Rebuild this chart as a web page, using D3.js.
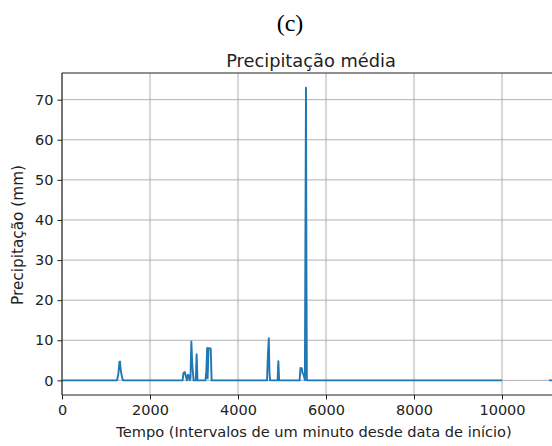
<!DOCTYPE html>
<html><head><meta charset="utf-8">
<script src="https://cdn.jsdelivr.net/npm/d3@7"></script>
<style>body{margin:0;background:#fff}svg{display:block}</style>
</head><body>
<script>
// Time (minutes since start) and mean precipitation (mm); null = gap
const minutes = [0, 1250, 1280, 1305, 1318, 1335, 1370, 1390, 2740, 2760, 2790, 2820, 2840, 2860, 2880, 2900, 2920, 2940, 2960, 2990, 3040, 3060, 3080, 3100, 3260, 3280, 3300, 3310, 3330, 3360, 3380, 3400, 4660, 4680, 4700, 4715, 4730, 4900, 4917, 4935, 5400, 5420, 5450, 5470, 5490, 5520, 5545, 5555, 5565, 5580, 9990, 10000, 10010, 11060, 11070, 11400];
const precip  = [0, 0, 1.5, 4.6, 4.7, 2.5, 0.5, 0, 0, 1.8, 2.1, 0.8, 0, 1.4, 1.2, 0, 0.5, 9.7, 4, 0, 0, 6.5, 0, 0, 0, 2.3, 8.1, 0.5, 8.0, 8.0, 7.9, 0, 0, 6.5, 10.5, 2, 0, 0, 4.8, 0, 0, 3.1, 3.0, 1.7, 1.5, 0, 73, 30, 0, 0, 0, 0, null, null, 0, 0];
const xTicks = [0, 2000, 4000, 6000, 8000, 10000];
const yTicks = [0, 10, 20, 30, 40, 50, 60, 70];

const W = 552, H = 446;
const m = {left: 62, top: 73, right: 560, bottom: 395};
const svg = d3.select("body").append("svg").attr("width", W).attr("height", H)
  .style("font-family", "'DejaVu Sans', sans-serif");

const x = d3.scaleLinear().domain([0, 11318]).range([m.left, m.right]);
const y = d3.scaleLinear().domain([-3.65, 76.65]).range([m.bottom, m.top]);

svg.append("defs").append("clipPath").attr("id", "clip")
  .append("rect").attr("x", m.left).attr("y", m.top).attr("width", m.right - m.left).attr("height", m.bottom - m.top);

// grid
const g = svg.append("g");
g.selectAll(".gx").data(xTicks).join("line")
  .attr("x1", d => x(d)).attr("x2", d => x(d)).attr("y1", m.top).attr("y2", m.bottom)
  .attr("stroke", "#b0b0b0").attr("stroke-width", 1);
g.selectAll(".gy").data(yTicks).join("line")
  .attr("x1", m.left).attr("x2", m.right).attr("y1", d => y(d)).attr("y2", d => y(d))
  .attr("stroke", "#b0b0b0").attr("stroke-width", 1);

// line
const data = minutes.map((t, i) => ({t, v: precip[i]}));
const line = d3.line().defined(d => d.v !== null).x(d => x(d.t)).y(d => y(d.v));
svg.append("path").datum(data).attr("d", line).attr("clip-path", "url(#clip)")
  .attr("fill", "none").attr("stroke", "#1f77b4").attr("stroke-width", 1.9).attr("stroke-linejoin", "round");

// axes
const xAxis = d3.axisBottom(x).tickValues(xTicks).tickSize(4.5).tickPadding(5).tickFormat(d3.format("d"));
const yAxis = d3.axisLeft(y).tickValues(yTicks).tickSize(4.5).tickPadding(4).tickFormat(d3.format("d"));
const gx = svg.append("g").attr("transform", `translate(0,${m.bottom})`).call(xAxis);
const gy = svg.append("g").attr("transform", `translate(${m.left},0)`).call(yAxis);
[gx, gy].forEach(a => {
  a.select(".domain").remove();
  a.selectAll("line").attr("stroke", "#222").attr("stroke-width", 1);
  a.selectAll("text").attr("fill", "#222").style("font-size", "14.5px").style("font-family", "'DejaVu Sans', sans-serif");
});

// spines
svg.append("line").attr("x1", m.left).attr("x2", m.left).attr("y1", m.top).attr("y2", m.bottom).attr("stroke", "#222").attr("stroke-width", 1.1);
svg.append("line").attr("x1", m.left).attr("x2", m.right).attr("y1", m.bottom).attr("y2", m.bottom).attr("stroke", "#222").attr("stroke-width", 1.1);
svg.append("line").attr("x1", m.left).attr("x2", m.right).attr("y1", m.top).attr("y2", m.top).attr("stroke", "#222").attr("stroke-width", 1.1);

// titles
svg.append("text").attr("x", 290).attr("y", 31).attr("text-anchor", "middle")
  .style("font-family", "'Liberation Serif', 'Times New Roman', serif").style("font-size", "24px").attr("fill", "#000").text("(c)");
svg.append("text").attr("x", 311).attr("y", 67).attr("text-anchor", "middle")
  .style("font-size", "17.8px").attr("fill", "#222").text("Precipitação média");
svg.append("text").attr("x", 314).attr("y", 437).attr("text-anchor", "middle")
  .style("font-size", "14.6px").attr("fill", "#222").text("Tempo (Intervalos de um minuto desde data de início)");
svg.append("text").attr("transform", `translate(23,235) rotate(-90)`).attr("text-anchor", "middle")
  .style("font-size", "15.3px").attr("fill", "#222").text("Precipitação (mm)");
</script>
</body></html>
